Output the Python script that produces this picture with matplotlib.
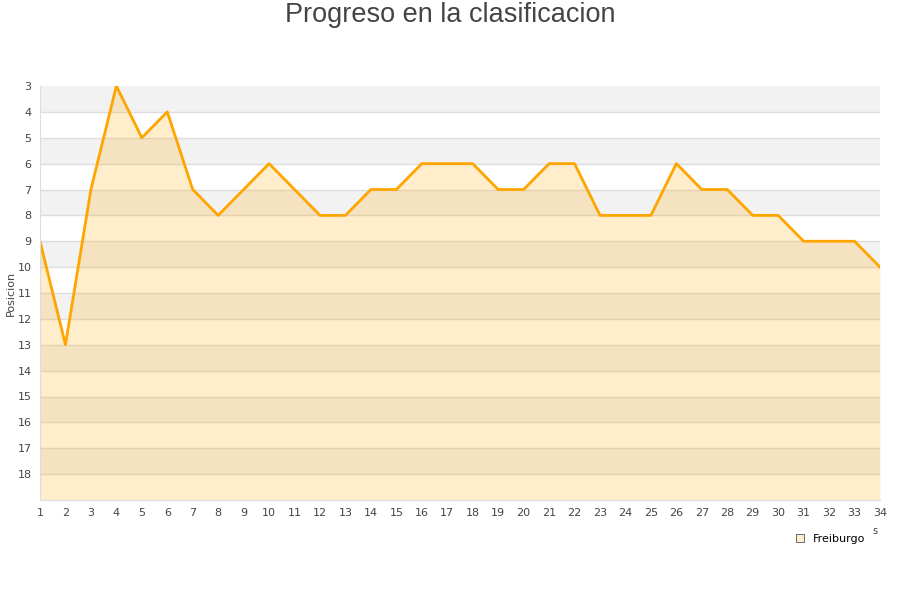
import matplotlib
matplotlib.use("Agg")
import matplotlib.pyplot as plt
from matplotlib.lines import Line2D

jornadas = list(range(1, 35))
posiciones = [9, 13, 7, 3, 5, 4, 7, 8, 7, 6, 7, 8, 8, 7, 7, 6, 6, 6, 7, 7, 6, 6,
              8, 8, 8, 6, 7, 7, 8, 8, 9, 9, 9, 10]
y_ticks = list(range(3, 19))
team = "Freiburgo"
title = "Progreso en la clasificacion"
ylabel = "Posicion"

orange = "#FFA500"
fig = plt.figure(figsize=(9, 6), dpi=100)
ax = fig.add_axes([40/900, 100/600, 840/900, 414/600])

ax.set_xlim(1, 34)
ax.set_ylim(19, 3)

# alternating bands
for y0 in range(3, 19, 2):
    ax.axhspan(y0, y0 + 1, color="#F2F2F2", zorder=0, lw=0)
for y in range(4, 19):
    ax.axhline(y, color="#DDDDDD", lw=1, zorder=0.5)

ax.fill_between(jornadas, posiciones, 19, color=orange, alpha=0.2, lw=0, zorder=1)
ax.plot(jornadas, posiciones, color=orange, lw=2, zorder=2)

ax.set_xticks(jornadas)
ax.set_yticks(y_ticks)
ax.tick_params(axis="both", length=0, labelsize=8, colors="#444444", pad=6)
ax.tick_params(axis="x", pad=6)
for s in ["top", "right"]:
    ax.spines[s].set_visible(False)
for s in ["left", "bottom"]:
    ax.spines[s].set_color("#DDDDDD")

ax.set_ylabel(ylabel, fontsize=8, color="#444444", labelpad=1)
fig.text(0.5, 1 - 15/600, title, ha="center", va="center", fontsize=19.5, color="#444444",
         family="Liberation Sans")
fig.text(875/900, 1 - 531/600, "s", ha="center", va="center", fontsize=7, color="#444444")

handle = Line2D([], [], marker="s", linestyle="none", markersize=6,
                markerfacecolor="#FFEDCC", markeredgecolor="#555555", markeredgewidth=0.6)
fig.legend([handle], [team], loc="center", bbox_to_anchor=(830/900, 1 - 539/600),
           frameon=False, fontsize=8, handletextpad=0.7, borderpad=0, handlelength=1)

fig.savefig("out.png", dpi=100)
